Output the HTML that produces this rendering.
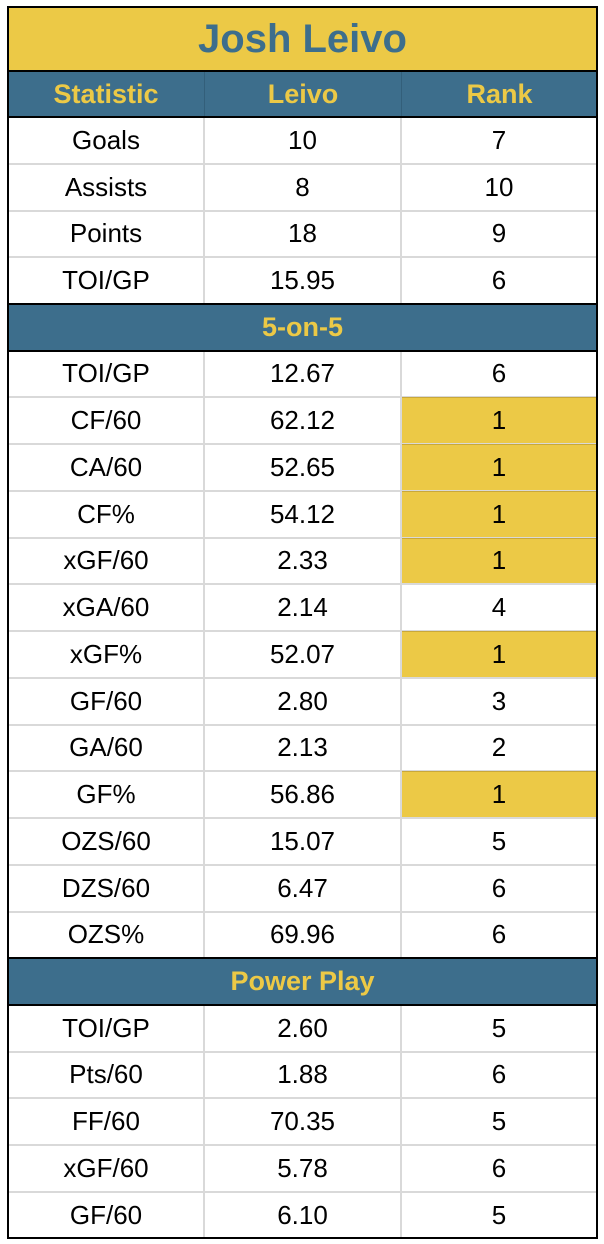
<!DOCTYPE html>
<html><head><meta charset="utf-8"><style>
body{margin:0;width:604px;height:1244px;background:#fff;font-family:"Liberation Sans",Arial,sans-serif;position:relative;overflow:hidden}
.c{position:absolute;display:flex;align-items:center;justify-content:center;box-sizing:border-box;font-size:26px;color:#000}
.hl{background:#ecc946;border:1px solid #c9a83a}
.gl{position:absolute;background:#d9d9d9}
.bl{position:absolute;background:#000}
</style></head><body>
<div id="t"></div>
<script>
const statsTop=["Goals","Assists","Points","TOI/GP"];
const leivoTop=["10","8","18","15.95"];
const rankTop=["7","10","9","6"];
const stats55=["TOI/GP","CF/60","CA/60","CF%","xGF/60","xGA/60","xGF%","GF/60","GA/60","GF%","OZS/60","DZS/60","OZS%"];
const leivo55=["12.67","62.12","52.65","54.12","2.33","2.14","52.07","2.80","2.13","56.86","15.07","6.47","69.96"];
const rank55=["6","1","1","1","1","4","1","3","2","1","5","6","6"];
const statsPP=["TOI/GP","Pts/60","FF/60","xGF/60","GF/60"];
const leivoPP=["2.60","1.88","70.35","5.78","6.10"];
const rankPP=["5","6","5","6","5"];
const L=8,R=597,cols=[8,204,401,597],RH=46.75;
const t=document.getElementById('t');
function div(cls,x,y,w,h,txt,style,name){const d=document.createElement('div');d.className=cls;d.style.cssText=`left:${x}px;top:${y}px;width:${w}px;height:${h}px;`+(style||'');if(txt!==undefined)d.textContent=txt;


t.appendChild(d);return d;}
let y=7;
div('c',L,y,R-L,64,'Josh Leivo','background:#ecc946;color:#3d6e8c;font-weight:bold;font-size:40px;','title');
y=71;
const heads=["Statistic","Leivo","Rank"];
div('c',L,y,R-L,46,'','background:#3d6e8c;','header-row');
heads.forEach((h,i)=>div('c',cols[i],y,cols[i+1]-cols[i],46,h,'color:#ecc946;font-weight:bold;font-size:27px;'+(i>0?'border-left:1px solid #335f7a;':''),'header-'+h.toLowerCase()));
const blacks=[7,71,117];
y=117;
function section(s,l,r){for(let i=0;i<s.length;i++){const yy=y+i*RH;
if(i>0)div('gl',L,yy-1,R-L,2,undefined,'','row-gridline');
div('c',cols[0],yy,196,RH,s[i],'','stat-name');
div('c',cols[1],yy,197,RH,l[i],'','leivo-value');
const hi=r[i]==="1";
div('c'+(hi?' hl':''),cols[2],yy,196,RH,r[i],'','rank-value');}
[1,2].forEach(k=>div('gl',cols[k]-1,y,2,RH*s.length,undefined,'','col-gridline'));
y+=RH*s.length;}
function band(txt){blacks.push(y);div('c',L,y,R-L,46.5,txt,'background:#3d6e8c;color:#ecc946;font-weight:bold;font-size:27px;','section-'+txt.toLowerCase().replace(/ /g,'-'));y+=46.5;blacks.push(y);}
section(statsTop,leivoTop,rankTop);
band('5-on-5');
section(stats55,leivo55,rank55);
band('Power Play');
section(statsPP,leivoPP,rankPP);
blacks.forEach(b=>div('bl',L-1,b-1,R-L+2,2,undefined,'','black-rule'));
div('bl',L-1,1237,R-L+2,2,undefined,'','black-rule');
div('bl',L-1,6,2,1233,undefined,'','left-border');
div('bl',R-1,6,2,1233,undefined,'','right-border');
</script>
</body></html>
